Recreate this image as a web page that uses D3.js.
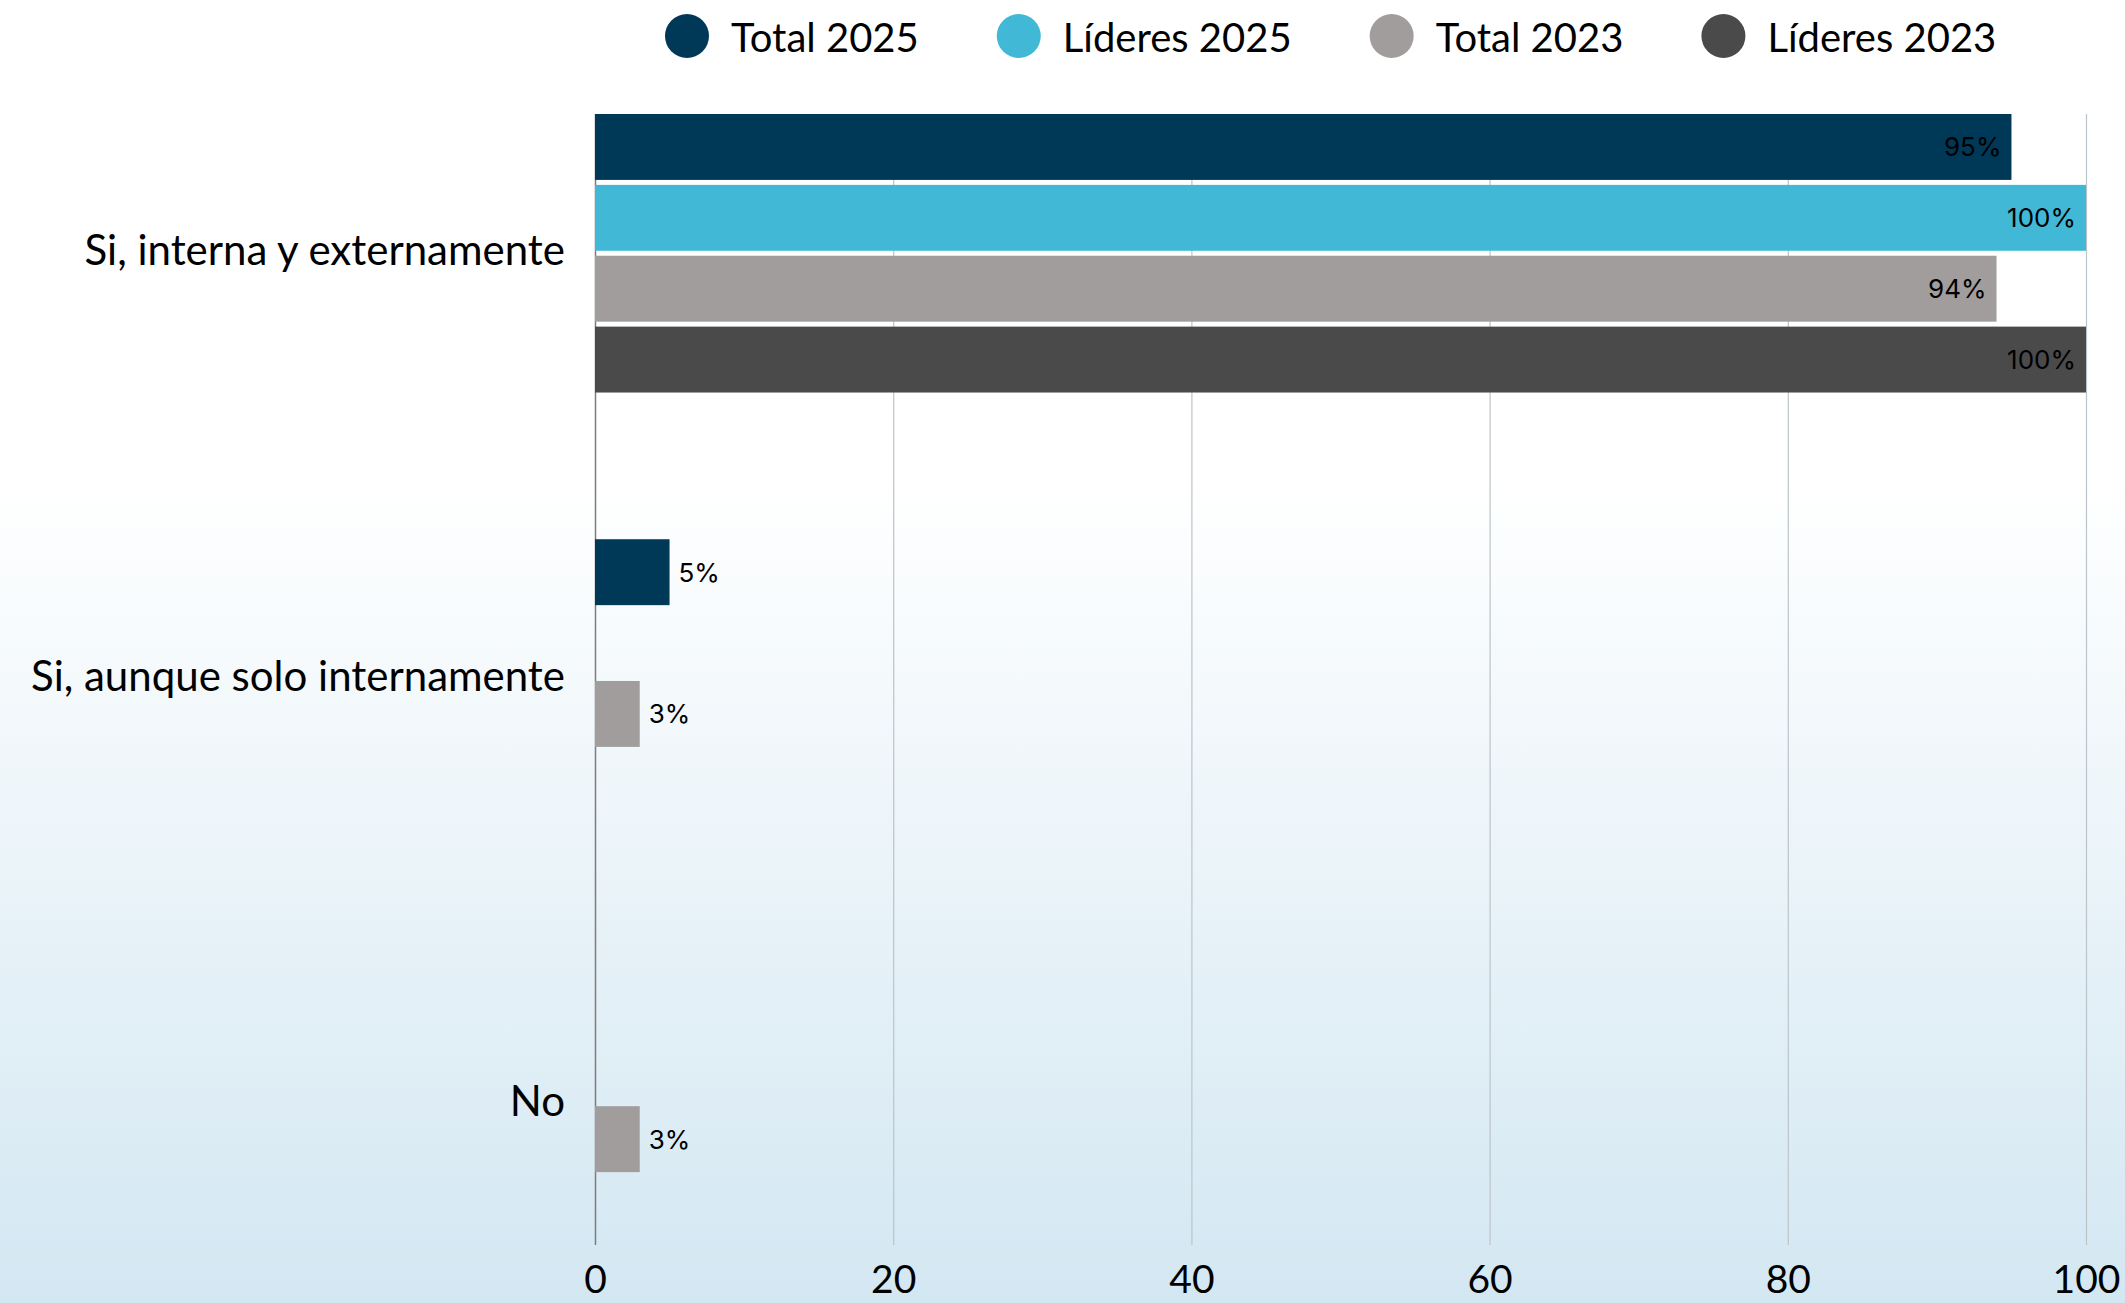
<!DOCTYPE html>
<html>
<head>
<meta charset="utf-8">
<script src="https://cdn.jsdelivr.net/npm/d3@7"></script>
<style>
  html, body { margin: 0; padding: 0; background: #fff; }
  svg { display: block; }
</style>
</head>
<body>
<svg id="chart" width="2125" height="1303"></svg>
<script>
// Respuestas por categoría
const categories = ["Si, interna y externamente", "Si, aunque solo internamente", "No"];
const seriesNames = ["Total 2025", "Líderes 2025", "Total 2023", "Líderes 2023"];
const seriesColors = ["#003857", "#42b8d7", "#a09d9c", "#4a4a4a"];
// Porcentajes (null = sin barra)
const total2025   = [95, 5, null];
const lideres2025 = [100, null, null];
const total2023   = [94, 3, 3];
const lideres2023 = [100, null, null];
const xTicks = [0, 20, 40, 60, 80, 100];

const seriesValues = [total2025, lideres2025, total2023, lideres2023];

const W = 2125, H = 1303;
const margin = { left: 595, right: 39, top: 114, bottom: 58 };
const svg = d3.select("#chart");

// Fondo degradado blanco -> azul claro
const defs = svg.append("defs");
const grad = defs.append("linearGradient")
  .attr("id", "bg").attr("x1", 0).attr("y1", 0).attr("x2", 0).attr("y2", 1);
grad.append("stop").attr("offset", "0%").attr("stop-color", "#ffffff");
grad.append("stop").attr("offset", "37%").attr("stop-color", "#ffffff");
grad.append("stop").attr("offset", "100%").attr("stop-color", "#d3e7f2");
svg.append("rect").attr("width", W).attr("height", H).attr("fill", "url(#bg)");

const plotBottom = H - margin.bottom;

const x = d3.scaleLinear().domain([0, 100]).range([margin.left, W - margin.right]);
const y = d3.scaleBand().domain(categories)
  .range([margin.top, plotBottom - 2]).paddingInner(0.345).paddingOuter(0);
const ySub = d3.scaleBand().domain(seriesNames)
  .range([0, y.bandwidth()]).paddingInner(0.07).paddingOuter(0);
const color = d3.scaleOrdinal().domain(seriesNames).range(seriesColors);

// Eje X con líneas de cuadrícula
const xAxis = svg.append("g")
  .attr("transform", `translate(0,${plotBottom})`)
  .call(d3.axisBottom(x).tickValues(xTicks).tickFormat(d3.format("d"))
    .tickSize(-(plotBottom - margin.top)).tickPadding(20));
xAxis.select(".domain").remove();
xAxis.selectAll(".tick line")
  .attr("stroke", d => d === 0 ? "#7d7d7d" : "#bcc4c9")
  .attr("stroke-width", d => d === 0 ? 1.5 : 1.2);
xAxis.selectAll(".tick text")
  .attr("fill", "#000")
  .style("font-family", "Lato, 'Noto Sans', sans-serif")
  .style("font-size", "39px");

// Etiquetas de categoría
svg.append("g").selectAll("text")
  .data(categories)
  .join("text")
  .attr("x", 565)
  .attr("y", d => y(d) + y.bandwidth() / 2 - 4)
  .attr("text-anchor", "end")
  .attr("dominant-baseline", "central")
  .style("font-family", "Lato, 'Noto Sans', sans-serif")
  .style("font-size", "42px")
  .attr("fill", "#000")
  .text(d => d);

// Barras
const bars = [];
categories.forEach((c, ci) => {
  seriesNames.forEach((s, si) => {
    const v = seriesValues[si][ci];
    if (v !== null && v !== undefined) bars.push({ cat: c, series: s, value: v });
  });
});

const barG = svg.append("g");
barG.selectAll("rect")
  .data(bars)
  .join("rect")
  .attr("x", x(0))
  .attr("y", d => y(d.cat) + ySub(d.series))
  .attr("width", d => x(d.value) - x(0))
  .attr("height", ySub.bandwidth())
  .attr("fill", d => color(d.series));

// Valores: dentro de la barra si es larga, fuera si es corta
barG.selectAll("text")
  .data(bars)
  .join("text")
  .attr("x", d => d.value > 20 ? x(d.value) - 10 : x(d.value) + 9)
  .attr("y", d => y(d.cat) + ySub(d.series) + ySub.bandwidth() / 2)
  .attr("text-anchor", d => d.value > 20 ? "end" : "start")
  .attr("dominant-baseline", "central")
  .style("font-family", "Inter, 'Liberation Sans', sans-serif")
  .style("font-size", "26px")
  .attr("fill", "#000")
  .text(d => d.value + "%");

// Leyenda
const legend = svg.append("g");
let lx = 665;
seriesNames.forEach((s, i) => {
  const g = legend.append("g").attr("transform", `translate(${lx},0)`);
  g.append("circle").attr("cx", 22).attr("cy", 36).attr("r", 22).attr("fill", seriesColors[i]);
  const t = g.append("text")
    .attr("x", 66).attr("y", 37)
    .attr("dominant-baseline", "central")
    .style("font-family", "Lato, 'Noto Sans', sans-serif")
    .style("font-size", "40px")
    .attr("fill", "#000")
    .text(s);
  const tw = t.node().getComputedTextLength();
  lx += 66 + tw + 78;
});
</script>
</body>
</html>
